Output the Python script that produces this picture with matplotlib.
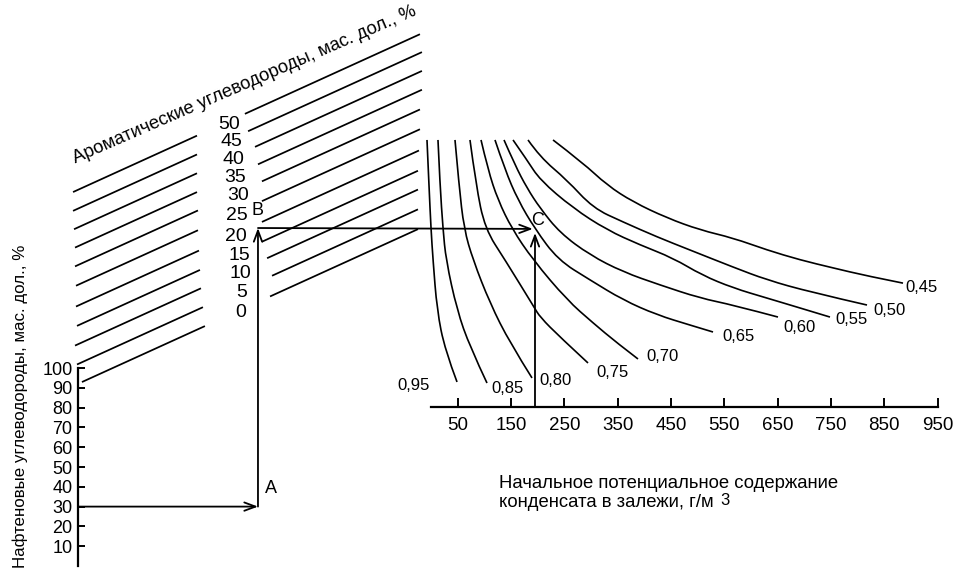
import numpy as np
import matplotlib
matplotlib.use("Agg")
import matplotlib.pyplot as plt
from matplotlib.path import Path
from matplotlib.patches import PathPatch

plt.rcParams['font.family'] = ['Liberation Sans', 'DejaVu Sans']

# --- naphthenic scale (left, % mass) ---
naph_ticks = [10, 20, 30, 40, 50, 60, 70, 80, 90, 100]
naph_value = 30

# --- aromatic line family (values, where each line meets the naphthenic axis) ---
arom_values = [50, 45, 40, 35, 30, 25, 20, 15, 10, 5, 0]
arom_intercept = [190, 180.5, 171, 161.5, 152, 142, 131.5, 121.5, 112, 102, 92]
arom_slope = 0.455

# --- condensate scale (bottom right, g/m3) ---
cond_ticks = [50, 150, 250, 350, 450, 550, 650, 750, 850, 950]
cond_value_C = 195

# --- density curves: condensate value vs. hidden ordinate (0..100) ---
curve_labels = ['0,95', '0,85', '0,80', '0,75', '0,70', '0,65', '0,60', '0,55', '0,50', '0,45']
curve_x = [
    [-7.5, -3.8, 0, 3.8, 11.3, 26.3, 48.8],
    [13.1, 16.9, 22.5, 28.1, 48.8, 73.1, 105],
    [45, 52.5, 61.9, 78.8, 110.6, 148.1, 189.4],
    [73.1, 84.4, 101.3, 138.8, 193, 204.4, 241.9, 294.4],
    [93.8, 106.9, 125.6, 151.9, 191.3, 255, 303.8, 348.8, 388.1],
    [120, 138.8, 163.1, 195, 238.1, 298.1, 360, 423.8, 485.6, 528.8],
    [136.9, 157.5, 180, 204.4, 241.9, 298.1, 360, 429.4, 504.4, 566.3, 650.6],
    [153.8, 180, 204.4, 266.3, 330, 391.9, 453.8, 508.1, 566.3, 630, 691.9, 748.1],
    [181.9, 204.4, 255, 303.8, 360, 423.8, 485.6, 566.3, 630, 710.6, 817.5],
    [228.8, 285, 330, 378.8, 442.5, 504.4, 566.3, 630, 691.9, 753.8, 817.5, 885],
]
curve_y = [
    [100, 83.1, 66.7, 55.1, 36.3, 21.3, 9.4],
    [100, 83.1, 66.7, 55.1, 36.3, 22.5, 9.0],
    [100, 83.1, 66.7, 55.1, 38.9, 24.0, 10.9],
    [100, 83.1, 66.7, 55.1, 37.5, 33.7, 26.2, 16.5],
    [100, 88.8, 77.5, 66.7, 55.1, 40.1, 31.5, 24.0, 18.0],
    [100, 88.8, 77.5, 66.7, 55.1, 47.6, 40.1, 34.5, 30.7, 28.1],
    [100, 90.6, 82.0, 74.5, 65.2, 56.9, 50.6, 45.7, 40.8, 38.2, 33.7],
    [100, 92.5, 85.0, 74.5, 66.3, 60.7, 55.8, 49.4, 44.6, 40.8, 37.1, 33.7],
    [100, 93.6, 85.0, 74.5, 69.3, 63.7, 58.8, 52.4, 47.6, 43.1, 38.2],
    [100, 91.4, 83.1, 76.8, 70.8, 66.3, 63.3, 58.8, 55.1, 52.1, 49.1, 46.4],
]
ord_C = 66.7

fig = plt.figure(figsize=(9.59, 5.74), dpi=100)

# left axes: y in naphthenic %, x in same length units
ax_n = fig.add_axes([0, 0, 1, 1])
ax_n.set_xlim(-39.39, 444.95)
ax_n.set_ylim(-4.04, 285.86)
ax_n.patch.set_visible(False)
for s in ['top', 'right', 'bottom']:
    ax_n.spines[s].set_visible(False)
ax_n.spines['left'].set_position(('data', 0))
ax_n.spines['left'].set_bounds(0, 100)
ax_n.spines['left'].set_linewidth(1.6)
ax_n.set_xticks([])
ax_n.set_yticks(naph_ticks)
ax_n.tick_params(axis='y', direction='in', length=5, width=1.4, labelsize=13, pad=4)

# right axes: condensate scale
ax_c = fig.add_axes([0, 0, 1, 1])
ax_c.set_xlim(-808.1, 990)
ax_c.set_ylim(-62.5, 152.4)
ax_c.patch.set_visible(False)
for s in ['top', 'right', 'left']:
    ax_c.spines[s].set_visible(False)
ax_c.spines['bottom'].set_position(('data', 0))
ax_c.spines['bottom'].set_bounds(0, 950)
ax_c.spines['bottom'].set_linewidth(1.6)
ax_c.set_yticks([])
ax_c.set_xticks(cond_ticks)
ax_c.tick_params(axis='x', direction='in', length=6.5, width=1.4, labelsize=13.5, pad=7)

# aromatic line family, drawn with a gap for the labels
left_start = [-2.5, -2.5, -2.0, -1.5, -1.5, -1.0, -1.0, -0.5, -1.5, -0.5, 2.0]
left_end = [60.1, 60.1, 60.1, 60.1, 60.6, 60.6, 61.1, 61.6, 62.1, 63.1, 64.1]
right_start = [84.3, 85.9, 89.4, 90.9, 92.9, 92.9, 92.9, 92.9, 95.5, 98.0, 97.0]
right_end = [172.7, 173.7, 173.7, 173.7, 172.7, 172.7, 172.2, 171.7, 171.7, 171.7, 171.7]
label_x = [76.3, 77.3, 78.3, 79.3, 80.8, 80.3, 79.8, 81.3, 81.8, 82.8, 82.3]
for i, a in enumerate(arom_values):
    b = arom_intercept[i]
    for x0, x1 in [(left_start[i], left_end[i]), (right_start[i], right_end[i])]:
        ax_n.plot([x0, x1], [b + arom_slope * x0, b + arom_slope * x1],
                  color='black', lw=1.25, solid_capstyle='butt')
    ax_n.text(label_x[i], b + arom_slope * label_x[i] - 1.5, str(a),
              ha='center', va='center', fontsize=14)


# density curves, drawn as smooth quadratic paths through the read points
def smooth_path(xs, ys):
    pts = list(zip(xs, ys))
    verts = [pts[0]]
    codes = [Path.MOVETO]
    for k in range(1, len(pts) - 1):
        mid = ((pts[k][0] + pts[k + 1][0]) / 2, (pts[k][1] + pts[k + 1][1]) / 2)
        if k == len(pts) - 2:
            mid = pts[-1]
        verts += [pts[k], mid]
        codes += [Path.CURVE3, Path.CURVE3]
    return Path(verts, codes)


for i in range(len(curve_labels)):
    ax_c.add_patch(PathPatch(smooth_path(curve_x[i], curve_y[i]), fill=False,
                             edgecolor='black', lw=1.2))

lab_x = [-1.9, 112.5, 202.5, 311, 403, 545.6, 660, 757.5, 828.8, 888.8]
lab_y = [7.9, 7.1, 10.1, 13.1, 19.1, 26.6, 29.6, 32.6, 36.3, 44.6]
for i, t in enumerate(curve_labels):
    ax_c.text(lab_x[i], lab_y[i], t, ha='right' if i == 0 else 'left',
              va='center', fontsize=12)

# key: naphthenic -> A -> B -> C
arrow = dict(arrowstyle='->,head_length=0.8,head_width=0.3', color='black',
             lw=1.3, shrinkA=0, shrinkB=0, mutation_scale=10)
x_A = 90.9
y_B = 170.7
ax_n.annotate('', xy=(x_A, naph_value), xytext=(0, naph_value), arrowprops=arrow)
ax_n.annotate('', xy=(x_A, y_B), xytext=(x_A, naph_value), arrowprops=arrow)
ax_c.annotate('', xy=(cond_value_C - 4, ord_C), xycoords='data',
              xytext=(x_A, y_B), textcoords=ax_n.transData, arrowprops=arrow)
ax_c.annotate('', xy=(cond_value_C, ord_C - 1.5), xytext=(cond_value_C, 0),
              arrowprops=arrow)

ax_n.text(97.5, 38.9, 'А', ha='center', va='center', fontsize=13)
ax_n.text(90.7, 179.5, 'В', ha='center', va='center', fontsize=13)
ax_c.text(200.6, 69.7, 'С', ha='center', va='center', fontsize=13)

# titles
ax_n.text(-1.5, 203.5, 'Ароматические углеводороды, мас. дол., %', rotation=23.5,
          rotation_mode='anchor', ha='left', va='baseline', fontsize=13.2)
ax_n.text(-29.3, 80.6, 'Нафтеновые углеводороды, мас. дол., %', rotation=90,
          ha='center', va='center', fontsize=12.2)
ax_c.text(127.5, -28.5, 'Начальное потенциальное содержание', ha='left',
          va='center', fontsize=13.3)
ax_c.text(127.5, -35.6, 'конденсата в залежи, г/м', ha='left',
          va='center', fontsize=13.3)
ax_c.text(543, -35.0, '3', ha='left', va='center', fontsize=12)

fig.savefig('out.png', dpi=100)
